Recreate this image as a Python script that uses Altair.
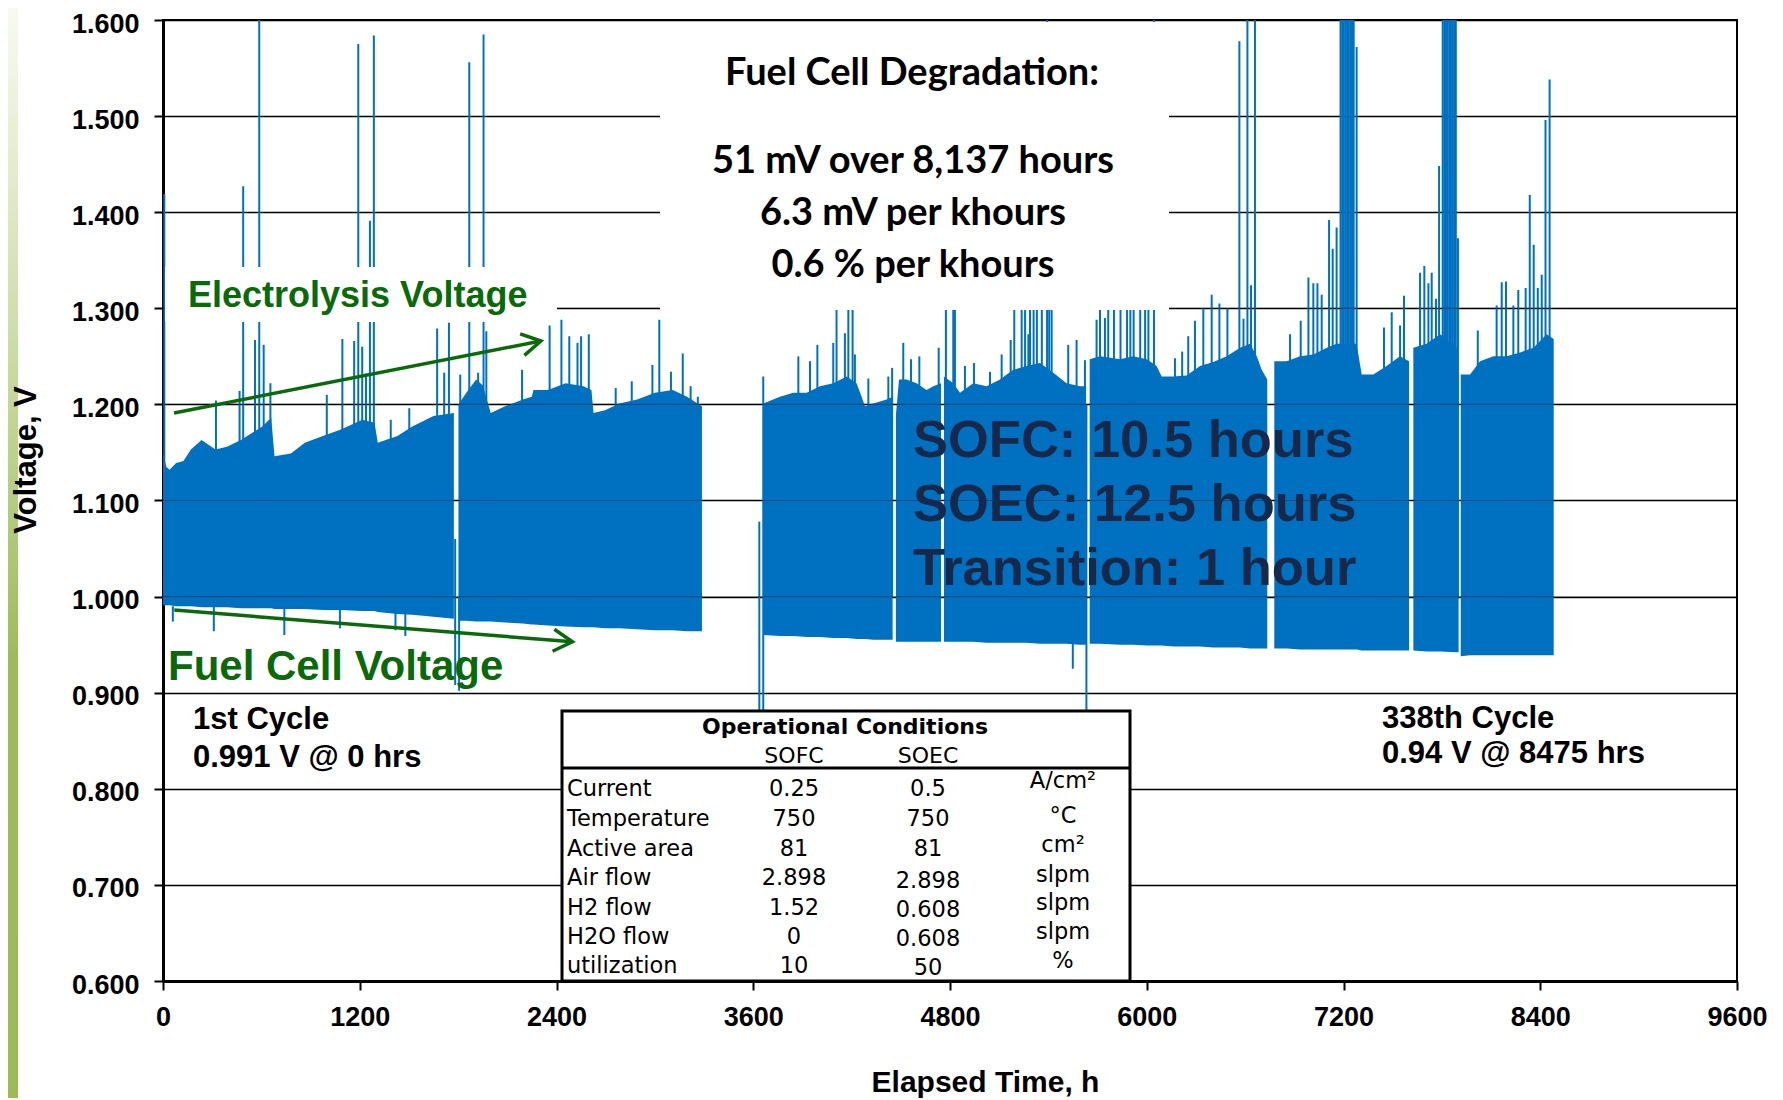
import altair as alt
import pandas as pd

# ---------------- values ----------------
x_ticks = [0, 1200, 2400, 3600, 4800, 6000, 7200, 8400, 9600]
y_ticks = [0.6, 0.7, 0.8, 0.9, 1.0, 1.1, 1.2, 1.3, 1.4, 1.5, 1.6]

# cycling band: regular electrolysis-peak envelope (upper) and fuel-cell envelope (lower)
band_hours = [
    0, 20, 40, 80, 125, 170, 235, 320, 390, 475, 540, 605, 660, 680, 780, 865, 975, 1085, 1215, 1290, 1310, 1430, 1520, 1650, 1774,
    1802, 1850, 1910, 1950, 1999, 2086, 2195, 2249, 2260, 2347, 2456, 2565, 2613, 2626, 2696, 2783, 2892, 3000, 3109, 3196, 3287,
    3661, 3763, 3844, 3926, 4007, 4088, 4170, 4230, 4261, 4281, 4332, 4413, 4450,
    4470, 4489, 4535, 4596, 4657, 4698, 4745,
    4763, 4820, 4861, 4942, 5023, 5105, 5186, 5267, 5349, 5430, 5511, 5593, 5630,
    5652, 5715, 5837, 5918, 6000, 6060, 6091, 6162, 6243, 6325, 6406, 6488, 6569, 6630, 6671, 6701, 6735,
    6778, 6854, 6935, 7016, 7098, 7158, 7280, 7311, 7382, 7463, 7545, 7600,
    7626, 7707, 7789, 7890, 7902,
    7915, 7972, 8033, 8114, 8195, 8277, 8358, 8439, 8482,
]
band_upper = [
    1.150, 1.135, 1.132, 1.139, 1.141, 1.153, 1.163, 1.153, 1.156, 1.163, 1.170, 1.177, 1.186, 1.146, 1.149, 1.160, 1.167, 1.174, 1.184, 1.181, 1.160, 1.167, 1.177, 1.188, 1.191,
    1.200, 1.212, 1.226, 1.220, 1.191, 1.198, 1.205, 1.208, 1.215, 1.215, 1.222, 1.219, 1.215, 1.191, 1.194, 1.201, 1.205, 1.212, 1.215, 1.208, 1.198,
    1.201, 1.208, 1.212, 1.212, 1.219, 1.222, 1.229, 1.222, 1.208, 1.198, 1.201, 1.205, 1.208,
    1.189, 1.226, 1.226, 1.222, 1.215, 1.219, 1.222,
    1.229, 1.222, 1.212, 1.222, 1.219, 1.226, 1.236, 1.240, 1.243, 1.233, 1.222, 1.219, 1.219,
    1.247, 1.250, 1.247, 1.250, 1.247, 1.240, 1.229, 1.229, 1.230, 1.240, 1.244, 1.250, 1.259, 1.263, 1.250, 1.236, 1.226,
    1.245, 1.245, 1.250, 1.252, 1.259, 1.263, 1.263, 1.231, 1.231, 1.240, 1.250, 1.245,
    1.259, 1.263, 1.273, 1.260, 1.232,
    1.231, 1.231, 1.245, 1.250, 1.250, 1.254, 1.259, 1.273, 1.268,
]
band_lower = [
    0.991, 0.991, 0.991, 0.990, 0.990, 0.990, 0.989, 0.989, 0.989, 0.988, 0.988, 0.988, 0.988, 0.987, 0.987, 0.987, 0.986, 0.986, 0.985, 0.985, 0.984, 0.982, 0.981, 0.979, 0.977,
    0.975, 0.975, 0.974, 0.974, 0.974, 0.973, 0.972, 0.971, 0.971, 0.970, 0.969, 0.968, 0.968, 0.968, 0.967, 0.967, 0.966, 0.965, 0.965, 0.964, 0.964,
    0.960, 0.959, 0.959, 0.958, 0.958, 0.957, 0.957, 0.956, 0.956, 0.956, 0.955, 0.955, 0.955,
    0.953, 0.953, 0.953, 0.953, 0.953, 0.953, 0.953,
    0.953, 0.953, 0.953, 0.953, 0.952, 0.952, 0.952, 0.952, 0.951, 0.951, 0.951, 0.950, 0.950,
    0.951, 0.951, 0.950, 0.950, 0.949, 0.949, 0.949, 0.948, 0.948, 0.948, 0.947, 0.947, 0.947, 0.946, 0.946, 0.946, 0.946,
    0.946, 0.946, 0.945, 0.945, 0.945, 0.945, 0.945, 0.944, 0.944, 0.944, 0.944, 0.944,
    0.944, 0.943, 0.943, 0.942, 0.942,
    0.938, 0.939, 0.939, 0.939, 0.939, 0.939, 0.939, 0.939, 0.939,
]
band_segment = (
    [1] * 25 + [2] * 21 + [3] * 13 + [4] * 7 + [5] * 13 + [6] * 17 + [7] * 12 + [8] * 5 + [9] * 9
)

# individual electrolysis peaks that stand above the band
spike_hours = [
    8, 323, 467, 489, 561, 587, 614, 655, 999, 1094, 1166, 1191, 1215, 1238, 1262, 1286, 1389, 1502, 1672, 1715, 1744,
    1813, 1868, 1922, 1955, 1972, 2190, 2358, 2430, 2478, 2528, 2550, 2597, 2761, 2859, 2985, 3027, 3098, 3170, 3218, 3262,
    3875, 3946, 3991, 4088, 4108, 4159, 4180, 4206, 4220, 4302, 4424, 4447,
    4515, 4562, 4613, 4731,
    4775, 4820, 4830, 4891, 4946, 5044, 5115, 5170, 5192, 5237, 5258, 5278, 5288, 5310, 5330, 5360, 5392, 5405, 5420, 5521, 5572, 5623,
    5694, 5715, 5745, 5765, 5800, 5840, 5880, 5900, 5920, 5960, 5990, 6010, 6044, 6172, 6216, 6253, 6294, 6345, 6396, 6443, 6492, 6565, 6590, 6614, 6636, 6660,
    6874, 6939, 6986, 7016, 7041, 7067, 7112, 7134, 7158, 7182, 7192, 7202, 7212, 7222, 7232, 7242, 7252, 7262, 7280, 7447, 7494, 7545, 7569,
    7667, 7693, 7718, 7738, 7764, 7783, 7805, 7815, 7825, 7835, 7845, 7855, 7865, 7875, 7885, 7898,
    8019, 8134, 8165, 8191, 8236, 8266, 8311, 8336, 8360, 8385, 8409, 8432, 8457,
]
spike_peak = [
    1.419, 1.204, 1.214, 1.427, 1.267, 1.600, 1.262, 1.222, 1.210, 1.268, 1.266, 1.575, 1.260, 1.232, 1.391, 1.584, 1.184, 1.196, 1.279, 1.233, 1.285,
    1.231, 1.556, 1.233, 1.585, 1.276, 1.236, 1.282, 1.288, 1.271, 1.264, 1.271, 1.273, 1.217, 1.224, 1.241, 1.288, 1.234, 1.253, 1.219, 1.208,
    1.250, 1.245, 1.262, 1.264, 1.350, 1.274, 1.350, 1.350, 1.252, 1.227, 1.229, 1.238,
    1.264, 1.247, 1.250, 1.259,
    1.350, 1.350, 1.350, 1.240, 1.243, 1.234, 1.252, 1.267, 1.350, 1.350, 1.350, 1.273, 1.350, 1.350, 1.350, 1.350, 1.600, 1.350, 1.350, 1.262, 1.267, 1.246,
    1.288, 1.350, 1.290, 1.350, 1.350, 1.350, 1.350, 1.350, 1.350, 1.350, 1.350, 1.350, 1.600, 1.248, 1.255, 1.271, 1.287, 1.300, 1.314, 1.305, 1.300, 1.578, 1.289, 1.600, 1.324, 1.600,
    1.273, 1.287, 1.332, 1.326, 1.326, 1.314, 1.392, 1.362, 1.384, 1.600, 1.600, 1.600, 1.600, 1.600, 1.600, 1.600, 1.600, 1.600, 1.572, 1.280, 1.296, 1.282, 1.313,
    1.337, 1.344, 1.326, 1.337, 1.310, 1.448, 1.600, 1.600, 1.600, 1.600, 1.600, 1.600, 1.600, 1.600, 1.600, 1.373,
    1.277, 1.303, 1.327, 1.328, 1.303, 1.319, 1.321, 1.418, 1.366, 1.321, 1.335, 1.496, 1.538,
]

# downward excursions of the fuel-cell voltage
dip_hours = [60, 310, 740, 1079, 1418, 1478, 1782, 1806, 3637, 3661, 5549, 5632]
dip_low = [0.974, 0.964, 0.960, 0.967, 0.965, 0.959, 0.908, 0.902, 0.850, 0.850, 0.925, 0.850]
dip_from = [0.990, 0.990, 0.990, 0.990, 0.990, 0.990, 1.060, 1.000, 1.078, 1.229, 0.960, 1.200]

# green trend arrows (hours, volts)
arrow_hours = [67, 2305, 69, 2497]
arrow_volts = [1.191, 1.266, 0.986, 0.953]
arrow_id = ["up", "up", "down", "down"]

table_rows = ["Current", "Temperature", "Active area", "Air flow", "H2 flow", "H2O flow", "utilization"]
table_sofc = ["0.25", "750", "81", "2.898", "1.52", "0", "10"]
table_soec = ["0.5", "750", "81", "2.898", "0.608", "0.608", "50"]
table_units = ["A/cm²", "°C", "cm²", "slpm", "slpm", "slpm", "%"]

# ---------------- styling ----------------
BLUE = "#0070c0"
GREEN = "#0a6a0a"
NAVY = "#17294a"
W, H = 1574, 961
X0, Y0 = 163, 20          # page position of the plot origin
ARIAL = "Liberation Sans"

xs = alt.Scale(domain=[0, 9600], nice=False, zero=False)
ys = alt.Scale(domain=[0.6, 1.6], nice=False, zero=False)
one = pd.DataFrame({"k": [0]})

band = pd.DataFrame({"h": band_hours, "up": band_upper, "lo": band_lower, "seg": band_segment})
spikes = pd.DataFrame({"h": spike_hours, "v": spike_peak, "b": [1.0] * len(spike_hours)})
dips = pd.DataFrame({"h": dip_hours, "v": dip_low, "b": dip_from})
arrows = pd.DataFrame({"h": arrow_hours, "v": arrow_volts, "id": arrow_id})

x_axis = alt.Axis(
    values=x_ticks, format="d", grid=False, labelFont=ARIAL, labelFontSize=27, labelFontWeight="bold",
    labelPadding=14, labelFlush=False, labelOverlap=False, tickSize=9, tickWidth=2,
    domainWidth=3, title="Elapsed Time, h", titleFont=ARIAL, titleFontSize=30,
    titleFontWeight="bold", titleX=822, titleY=110, titleBaseline="alphabetic", titleAlign="center",
)
y_axis = alt.Axis(
    values=y_ticks, format=".3f", grid=True, gridColor="black", gridWidth=1.5, gridOpacity=1,
    labelFont=ARIAL, labelFontSize=27, labelFontWeight="bold", labelPadding=15, labelFlush=False,
    labelOverlap=False, labelOffset=4, tickSize=9, tickWidth=2, domainWidth=3, title=None,
)


def X(field):
    return alt.X(field, scale=xs, axis=x_axis, title="Elapsed Time, h")


def Y(field):
    return alt.Y(field, scale=ys, axis=y_axis, title=None)


area = alt.Chart(band).mark_area(color=BLUE, opacity=1, interpolate="linear").encode(
    x=X("h:Q"), y=Y("up:Q"), y2="lo:Q", detail="seg:N"
)

spike_layer = alt.Chart(spikes).mark_rule(color=BLUE, strokeWidth=2).encode(
    x=X("h:Q"), y=Y("v:Q"), y2="b:Q"
)
dip_layer = alt.Chart(dips).mark_rule(color=BLUE, strokeWidth=2).encode(
    x=X("h:Q"), y=Y("v:Q"), y2="b:Q"
)

grid_overlay = alt.Chart(pd.DataFrame({"g": [1.0, 1.1, 1.2, 1.3]})).mark_rule(
    color="black", strokeWidth=1.2, opacity=0.3
).encode(y=Y("g:Q"), x=alt.value(0), x2=alt.value(W))

arrow_lines = alt.Chart(arrows).mark_line(color=GREEN, strokeWidth=3.5).encode(
    x=X("h:Q"), y=Y("v:Q"), detail="id:N"
)
CHEVRON = "M-0.95,-0.55L0,0L-0.95,0.55"
head_up = alt.Chart(arrows[arrows.index == 1]).mark_point(
    shape=CHEVRON, size=1600, filled=False, strokeWidth=3.5, color=GREEN, opacity=1, angle=348.9
).encode(x=X("h:Q"), y=Y("v:Q"))
head_down = alt.Chart(arrows[arrows.index == 3]).mark_point(
    shape=CHEVRON, size=1600, filled=False, strokeWidth=3.5, color=GREEN, opacity=1, angle=4.6
).encode(x=X("h:Q"), y=Y("v:Q"))


def box(x1, y1, x2, y2, stroke=None, sw=0):
    kw = dict(fill="white")
    if stroke:
        kw.update(stroke=stroke, strokeWidth=sw)
    return alt.Chart(one).mark_rect(**kw).encode(
        x=alt.value(x1 - X0), x2=alt.value(x2 - X0), y=alt.value(y1 - Y0), y2=alt.value(y2 - Y0)
    )


def label(text, x, y, size, font=ARIAL, weight="bold", color="black", align="left",
          baseline="alphabetic", angle=0):
    return alt.Chart(one).mark_text(
        text=text, font=font, fontSize=size, fontWeight=weight, color=color,
        align=align, baseline=baseline, angle=angle,
    ).encode(x=alt.value(x - X0), y=alt.value(y - Y0))


layers = [area, spike_layer, dip_layer, grid_overlay, arrow_lines, head_up, head_down]

# white panels that sit over the data
layers.append(box(660, 22, 1169, 310))
layers.append(box(165, 267, 557, 322))
layers.append(box(562, 711, 1130, 981, stroke="black", sw=3))
layers.append(
    alt.Chart(one).mark_rule(color="black", strokeWidth=3).encode(
        x=alt.value(562 - X0), x2=alt.value(1130 - X0), y=alt.value(768 - Y0)
    )
)

# gradient strip at the page's left edge
layers.append(
    alt.Chart(one).mark_rect(
        fill=alt.Gradient(
            gradient="linear",
            stops=[
                alt.GradientStop(color="#f8faf2", offset=0),
                alt.GradientStop(color="#c6d89c", offset=0.35),
                alt.GradientStop(color="#9dbb5b", offset=0.6),
                alt.GradientStop(color="#9bbb59", offset=1),
            ],
            x1=0, x2=0, y1=0, y2=1,
        )
    ).encode(x=alt.value(8 - X0), x2=alt.value(18 - X0), y=alt.value(8 - Y0), y2=alt.value(1098 - Y0))
)

# annotations
layers += [
    label("Voltage, V", 27, 460, 31, align="center", baseline="middle", angle=270),
    label("Fuel Cell Degradation:", 912, 85, 38, font="Lato", align="center"),
    label("51 mV over 8,137 hours", 913, 173, 38, font="Lato", align="center"),
    label("6.3 mV per khours", 913, 225, 38, font="Lato", align="center"),
    label("0.6 % per khours", 913, 277, 38, font="Lato", align="center"),
    label("Electrolysis Voltage", 188, 307, 36, color=GREEN),
    label("Fuel Cell Voltage", 168, 680, 42, color=GREEN),
    label("SOFC: 10.5 hours", 913, 457, 52.5, color=NAVY),
    label("SOEC: 12.5 hours", 913, 521, 52.5, color=NAVY),
    label("Transition: 1 hour", 913, 585, 52.5, color=NAVY),
    label("1st Cycle", 193, 729, 31),
    label("0.991 V @ 0 hrs", 193, 767, 31),
    label("338th Cycle", 1382, 728, 31),
    label("0.94 V @ 8475 hrs", 1382, 763, 31),
    label("Operational Conditions", 845, 734, 22, font="DejaVu Sans", align="center"),
    label("SOFC", 794, 763, 22, font="DejaVu Sans", weight="normal", align="center"),
    label("SOEC", 928, 763, 22, font="DejaVu Sans", weight="normal", align="center"),
]

row_base = [796, 826, 856, 885, 915, 944, 973]
unit_base = [788, 823, 852, 882, 910, 939, 968]
soec_shift = [0, 0, 0, 3, 2, 2, 2]
for i, name in enumerate(table_rows):
    layers.append(label(name, 567, row_base[i], 22.5, font="DejaVu Sans", weight="normal"))
    layers.append(label(table_sofc[i], 794, row_base[i], 22.5, font="DejaVu Sans", weight="normal", align="center"))
    layers.append(label(table_soec[i], 928, row_base[i] + soec_shift[i], 22.5, font="DejaVu Sans", weight="normal", align="center"))
    layers.append(label(table_units[i], 1063, unit_base[i], 22.5, font="DejaVu Sans", weight="normal", align="center"))

chart = (
    alt.layer(*layers)
    .properties(
        width=W, height=H,
        autosize=alt.AutoSizeParams(type="none"),
        padding={"left": 155, "top": 12, "right": 38, "bottom": 117},
        background="white",
    )
    .configure_axis(labelColor="black", tickColor="black", domainColor="black", titleColor="black")
    .configure_view(stroke="black", strokeWidth=2)
)

chart.save("out.html", embed_options={"renderer": "svg", "actions": False})
